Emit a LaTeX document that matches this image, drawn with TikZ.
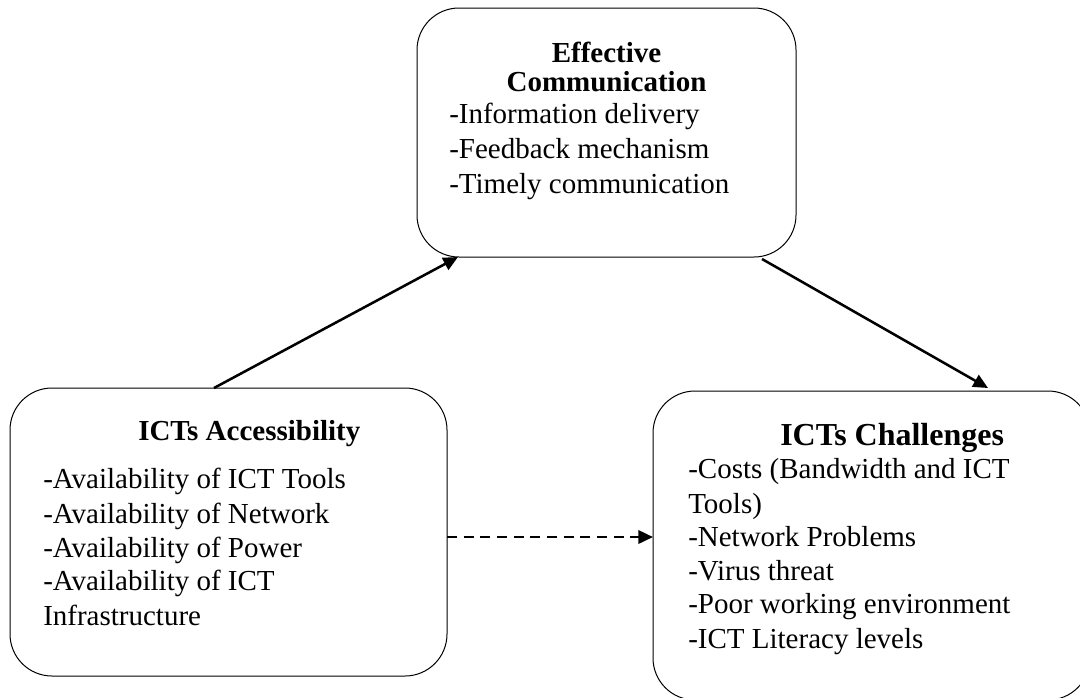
\documentclass[tikz,border=0pt]{standalone}
\usepackage{fontspec}
\setmainfont{Liberation Serif}
\usetikzlibrary{arrows.meta,calc}
\begin{document}
\begin{tikzpicture}[x=0.75pt,y=-0.75pt,
  box/.style={draw, line width=0.75pt, rounded corners=31.5pt, inner sep=0pt, outer sep=0pt},
  item/.style={anchor=base west, inner sep=0pt, font=\fontsize{21.75}{26}\selectfont},
  head/.style={anchor=base, inner sep=0pt, font=\fontsize{21.75}{26}\selectfont\bfseries},
  link/.style={line width=1.9pt, -{Triangle[length=11pt,width=10pt]}},
  dashlink/.style={link, dash pattern=on 7.5pt off 5pt},
]
\useasboundingbox (0,0) rectangle (1080,697);
\clip (0,0) rectangle (1080,697);

% boxes
\node[box, minimum width=284.25pt, minimum height=186.75pt] (eff) at (606.5,132.5) {};
\node[box, minimum width=327.75pt, minimum height=216pt] (acc) at (228.5,532) {};
\node[box, minimum width=327.75pt, minimum height=231.75pt] (chal) at (871.5,545.5) {};

% Effective Communication
\node[head] (eff-h1) at (606.5,62) {Effective};
\node[head] (eff-h2) at (606.5,91) {Communication};
\node[item] (eff-1) at (449,123) {-Information delivery};
\node[item] (eff-2) at (449,158) {-Feedback mechanism};
\node[item] (eff-3) at (449,193) {-Timely communication};

% ICTs Accessibility
\node[head, anchor=base west] (acc-h) at (138,440) {ICTs Accessibility};
\node[item] (acc-1) at (43,488) {-Availability of ICT Tools};
\node[item] (acc-2) at (43,523) {-Availability of Network};
\node[item] (acc-3) at (43,557) {-Availability of Power};
\node[item] (acc-4) at (43,590) {-Availability of ICT};
\node[item] (acc-5) at (43,625) {Infrastructure};

% ICTs Challenges
\node[head, anchor=base west, font=\fontsize{24}{28}\selectfont\bfseries] (chal-h) at (780,445) {ICTs Challenges};
\node[item] (chal-1) at (688,478) {-Costs (Bandwidth and ICT};
\node[item] (chal-2) at (688,513) {Tools)};
\node[item] (chal-3) at (688,546) {-Network Problems};
\node[item] (chal-4) at (688,580) {-Virus threat};
\node[item] (chal-5) at (688,613) {-Poor working environment};
\node[item] (chal-6) at (688,648) {-ICT Literacy levels};

% connectors
\draw[link] ($(acc.north west)+(204,0)$) -- ($(eff.south west)+(41,0)$);
\draw[link] ($(eff.south east)+(-34,2)$) -- ($(chal.north west)+(335,-3)$);
\coordinate (d) at ($(acc.east)+(0,5)$);
\draw[dashlink] (d) -- (d -| chal.west);
\end{tikzpicture}
\end{document}
